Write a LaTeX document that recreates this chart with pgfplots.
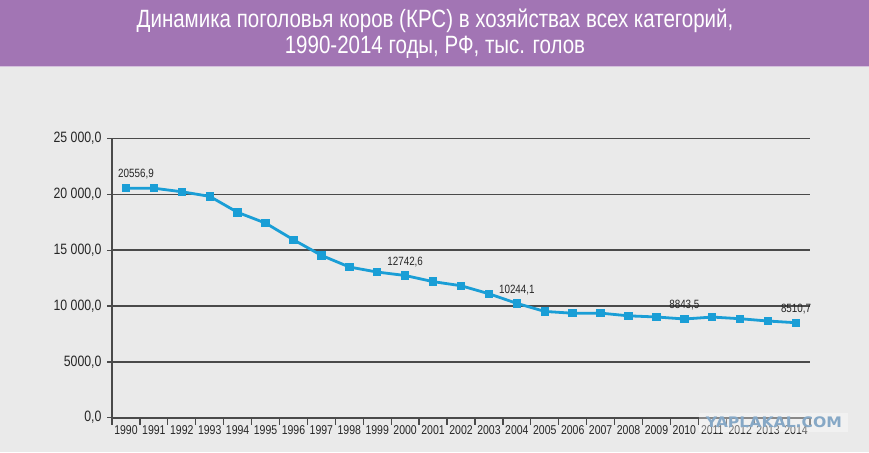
\documentclass[border=0pt]{standalone}
\usepackage{fontspec}
\setmainfont{Liberation Sans}[FakeStretch=0.82]
\newfontfamily\wmfont{DejaVu Sans}[FakeStretch=1.08]
\usepackage{pgfplots}
\usepackage{pgfplotstable}
\pgfplotsset{compat=1.18}
\definecolor{band}{HTML}{A275B4}
\definecolor{bg}{HTML}{EAEAEA}
\definecolor{ln}{HTML}{1A9ED6}
\definecolor{grd}{HTML}{4A4A4A}
\definecolor{txt}{HTML}{262626}
\definecolor{wm}{HTML}{86A8C6}
\pgfplotstableread{
x y
0 20556.9
1 20563.5
2 20244.5
3 19831.4
4 18397.7
5 17436.3
6 15942.3
7 14546.1
8 13502.8
9 13048.5
10 12742.6
11 12191.2
12 11826.4
13 11106.0
14 10244.1
15 9522.6
16 9359.7
17 9370.0
18 9126.6
19 9025.8
20 8843.5
21 9018.4
22 8867.5
23 8661.2
24 8510.7
}\cows
\pgfplotstableread{
x y label
10 12742.6 12742,6
14 10244.1 10244,1
20 8843.5 8843,5
24 8510.7 8510,7
}\labs
\pgfplotstableread{
x y label
0 20556.9 20556,9
}\labfirst
\begin{document}
\begin{tikzpicture}[x=1pt,y=1pt]
\useasboundingbox (0,0) rectangle (869,452);
\fill[bg] (0,0) rectangle (869,452);
\fill[band] (0,386) rectangle (869,452);
\draw[band!45!white, line width=1.5pt] (0,385.5)--(869,385.5);
\node[white, font=\fontsize{25}{26}\selectfont, anchor=base, inner sep=0pt] at (435,424)
  {Динамика поголовья коров (КРС) в хозяйствах всех категорий,};
\node[white, font=\fontsize{25}{26}\selectfont, anchor=base, inner sep=0pt] at (435,398)
  {1990-2014 годы, РФ, тыс. голов};
\begin{axis}[
  at={(112pt,34.3pt)}, anchor=south west,
  scale only axis, width=698pt, height=279pt,
  xmin=-0.5, xmax=24.5, ymin=0, ymax=25000,
  scaled y ticks=false,
  axis x line*=bottom, axis y line*=left,
  axis line style={grd, line width=1.6pt},
  ymajorgrids, grid style={grd, line width=1.6pt},
  ytick={0,5000,10000,15000,20000,25000},
  yticklabels={{0,0},{5000,0},{10 000,0},{15 000,0},{20 000,0},{25 000,0}},
  xtick={0,...,24},
  xticklabels={1990,1991,1992,1993,1994,1995,1996,1997,1998,1999,2000,2001,2002,2003,2004,2005,2006,2007,2008,2009,2010,2011,2012,2013,2014},
  minor xtick={-0.5,0.5,...,24.5},
  tick align=outside,
  major tick length=5pt, minor tick length=7pt,
  major x tick style={draw=none},
  minor x tick style={grd, line width=1.3pt},
  major y tick style={grd, line width=1.5pt},
  x tick label style={font=\fontsize{12.8}{14}\selectfont, text=txt, yshift=1pt},
  y tick label style={font=\fontsize{15}{17}\selectfont, text=txt, xshift=-2pt},
  /pgf/number format/assume math mode=true,
  clip=false,
]
\addplot[ln, line width=2.8pt, mark=square*, mark size=3.7pt, mark options={fill=ln, draw=ln, line width=0pt}] table[x=x,y=y] {\cows};
\addplot[draw=none, mark=none, nodes near coords, point meta=explicit symbolic,
  nodes near coords style={font=\fontsize{12}{14}\selectfont, text=txt, anchor=south, yshift=5pt}]
  table[x=x,y=y,meta=label] {\labs};
\addplot[draw=none, mark=none, nodes near coords, point meta=explicit symbolic,
  nodes near coords style={font=\fontsize{12}{14}\selectfont, text=txt, anchor=south, xshift=10pt, yshift=6pt}]
  table[x=x,y=y,meta=label] {\labfirst};
\end{axis}
\fill[white, opacity=0.35] (699,20) rectangle (848,39);
\node[text=wm, font=\wmfont\bfseries\fontsize{14.5}{16}\selectfont, inner sep=0pt] at (774,30) {YAPLAKAL.COM};
\end{tikzpicture}
\end{document}
